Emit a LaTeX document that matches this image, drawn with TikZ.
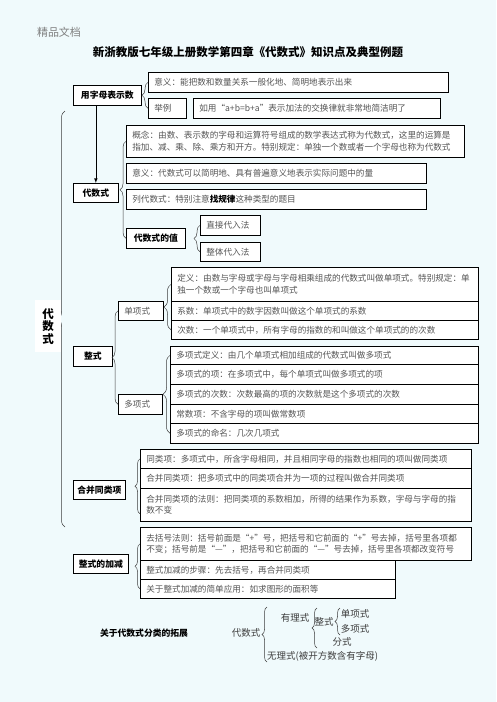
\documentclass[tikz,border=0pt]{standalone}
\usepackage{fontspec}
\setmainfont{Noto Sans CJK SC}
\usetikzlibrary{arrows, calc, decorations.pathreplacing}
\definecolor{bgcyan}{RGB}{240,250,252}
\definecolor{txtgray}{RGB}{85,85,85}
\definecolor{linegray}{RGB}{60,60,60}
\tikzset{
	box/.style={draw, fill=white, line width=.7pt, anchor=north west, inner xsep=6pt, inner ysep=1pt, align=left, text=txtgray, font=\fontsize{8.6}{11.5}\selectfont},
	lbl/.style={draw, fill=white, line width=.7pt, anchor=north west, inner sep=0pt, align=center, font=\bfseries\fontsize{8.8}{10}\selectfont},
	brc/.style={decorate, decoration={brace, amplitude=#1}, line width=.5pt, draw=linegray},
	brc/.default=6pt,
	cls/.style={inner sep=0pt, text=linegray, font=\fontsize{9.5}{10}\selectfont},
}
\begin{document}
\begin{tikzpicture}[x=1pt, y=-1pt]
	\fill[bgcyan] (0,0) rectangle (496,702);
	\useasboundingbox (0,0) rectangle (496,702);
	\node[text=gray, font=\fontsize{11}{12}\selectfont] (head) at (59,32) {精品文档};
	\node[font=\bfseries\fontsize{11.5}{12}\selectfont] (title) at (248,52) {新浙教版七年级上册数学第四章《代数式》知识点及典型例题};
	% 用字母表示数
	\node[lbl, minimum width=68pt, minimum height=20pt] (yong) at (73,85) {用字母表示数};
	\node[box, text width=288pt, minimum height=20pt] (yiyi) at (148,72) {意义：能把数和数量关系一般化地、简明地表示出来};
	\node[box, text width=26pt, minimum height=20pt] (juli) at (148,98) {举例};
	\node[box, text width=235pt, minimum height=20pt] (ruyong) at (193,98) {如用“a+b=b+a”表示加法的交换律就非常地简洁明了};
	\draw[brc] (juli.west) -- (yiyi.west);
	% 代数式
	\node[lbl, minimum width=45pt, minimum height=19pt] (daishu) at (73,183) {代数式};
	\draw[-latex, line width=.6pt] (daishu.north |- yong.south) -- (daishu.north);
	\node[box, text width=326pt, minimum height=32pt] (gainian) at (126,125) {概念：由数、表示数的字母和运算符号组成的数学表达式称为代数式，这里的运算是\\指加、减、乘、除、乘方和开方。特别规定：单独一个数或者一个字母也称为代数式};
	\node[box, text width=288pt, minimum height=20pt] (yiyi2) at (126,163) {意义：代数式可以简明地、具有普遍意义地表示实际问题中的量};
	\node[box, text width=288pt, minimum height=20pt] (lie) at (126,189) {列代数式：特别注意{\bfseries\color{black}找规律}这种类型的题目};
	\node[lbl, minimum width=59pt, minimum height=20pt] (zhi) at (126,228) {代数式的值};
	\node[box, text width=48pt, minimum height=20pt] (zhijie) at (200,215) {直接代入法};
	\node[box, text width=48pt, minimum height=19pt] (zhengti) at (200,242) {整体代入法};
	\draw[brc] (zhi.west) -- (gainian.west);
	\draw[brc] (zhengti.west) -- (zhijie.west);
	% 整式
	\node[lbl, minimum width=39pt, minimum height=20pt] (zhengshi) at (73,346) {整式};
	\node[box, text width=33pt, minimum height=19pt] (danxiang) at (118,301) {单项式};
	\node[box, text width=295pt, minimum height=34pt] (dingyi) at (171,267) {定义：由数与字母或字母与字母相乘组成的代数式叫做单项式。特别规定：单\\独一个数或一个字母也叫单项式};
	\node[box, text width=295pt, minimum height=19pt] (xishu) at (171,301) {系数：单项式中的数字因数叫做这个单项式的系数};
	\node[box, text width=295pt, minimum height=19pt] (cishu) at (171,320) {次数：一个单项式中，所有字母的指数的和叫做这个单项式的的次数};
	\node[box, text width=32pt, minimum height=20pt] (duoxiang) at (118,394) {多项式};
	\node[box, text width=296pt, minimum height=18pt] (dx1) at (170,346) {多项式定义：由几个单项式相加组成的代数式叫做多项式};
	\node[box, text width=296pt, minimum height=20pt] (dx2) at (170,364) {多项式的项：在多项式中，每个单项式叫做多项式的项};
	\node[box, text width=296pt, minimum height=20pt] (dx3) at (170,384) {多项式的次数：次数最高的项的次数就是这个多项式的次数};
	\node[box, text width=296pt, minimum height=19pt] (dx4) at (170,404) {常数项：不含字母的项叫做常数项};
	\node[box, text width=296pt, minimum height=20pt] (dx5) at (170,423) {多项式的命名：几次几项式};
	\draw[brc] (duoxiang.west) -- (danxiang.west);
	\draw[brc=7pt] (cishu.west) -- (dingyi.west);
	\draw[brc=7pt] (dx5.west) -- (dx1.west);
	% 合并同类项
	\node[lbl, minimum width=52pt, minimum height=19pt] (hebing) at (73,480) {合并同类项};
	\node[box, text width=319pt, minimum height=19pt] (tl1) at (140,449) {同类项：多项式中，所含字母相同，并且相同字母的指数也相同的项叫做同类项};
	\node[box, text width=319pt, minimum height=20pt] (tl2) at (140,468) {合并同类项：把多项式中的同类项合并为一项的过程叫做合并同类项};
	\node[box, text width=319pt, minimum height=33pt] (tl3) at (140,488) {合并同类项的法则：把同类项的系数相加，所得的结果作为系数，字母与字母的指\\数不变};
	\draw[brc=5pt] ([yshift=8pt]tl3.south west) -- (tl1.west);
	% 整式的加减
	\node[lbl, minimum width=55pt, minimum height=19pt] (jiajian) at (73,554) {整式的加减};
	\node[box, text width=319pt, minimum height=33pt] (qk1) at (140,527) {去括号法则：括号前面是“+”号，把括号和它前面的“+”号去掉，括号里各项都\\不变；括号前是“—”，把括号和它前面的“—”号去掉，括号里各项都改变符号};
	\node[box, text width=243pt, minimum height=19pt] (qk2) at (140,560) {整式加减的步骤：先去括号，再合并同类项};
	\node[box, text width=243pt, minimum height=19pt] (qk3) at (140,579) {关于整式加减的简单应用：如求图形的面积等};
	\draw[brc=5pt] (qk3.west) -- (qk1.west);
	% 代数式 总括号
	\coordinate (bigtop) at (65,111);
	\coordinate (bigbot) at (65,527);
	\draw[brc=7pt] (bigbot) -- (bigtop);
	\node[fill=white, anchor=north west, minimum width=26pt, minimum height=52pt, align=center, font=\bfseries\fontsize{11.5}{12.5}\selectfont] (bigdai) at (35,300) {代\\数\\式};
	% 分类的拓展
	\node[inner sep=0pt, font=\bfseries\fontsize{8.8}{10}\selectfont] (tuozhan) at (144,633) {关于代数式分类的拓展};
	\node[cls] (ds) at (246,633) {代数式};
	\node[cls] (youli) at (295,618) {有理式};
	\node[cls] (zs) at (324,622) {整式};
	\node[cls] (dan) at (355,614) {单项式};
	\node[cls] (duo) at (355,629) {多项式};
	\node[cls] (fen) at (342,642) {分式};
	\node[cls, anchor=west] (wuli) at (267,656) {无理式(被开方数含有字母)};
	\coordinate (c1t) at (267,607);
	\coordinate (c1b) at (267,662);
	\coordinate (c2t) at (317,608);
	\coordinate (c2b) at (317,648);
	\coordinate (c3t) at (340,608);
	\coordinate (c3b) at (340,635);
	\draw[brc=5pt] (c1b) -- (c1t);
	\draw[brc=5pt] (c2b) -- (c2t);
	\draw[brc=5pt] (c3b) -- (c3t);
\end{tikzpicture}
\end{document}
